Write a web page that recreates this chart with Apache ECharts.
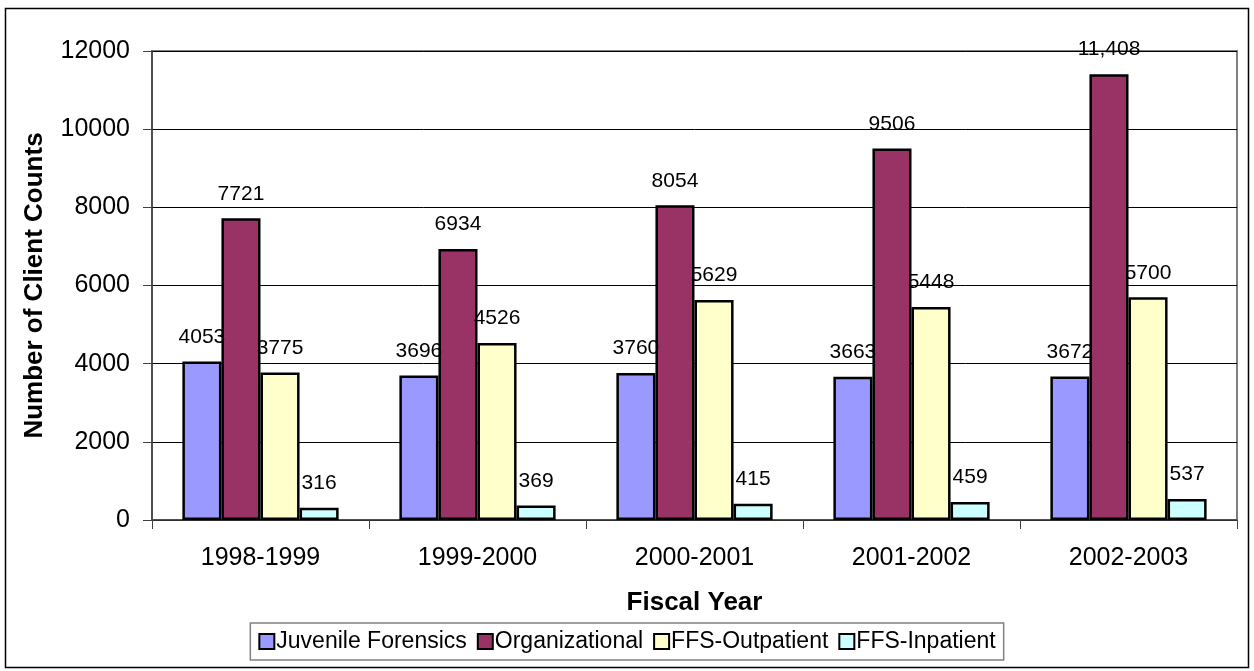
<!DOCTYPE html>
<html>
<head>
<meta charset="utf-8">
<script src="https://cdn.jsdelivr.net/npm/echarts@6/dist/echarts.min.js"></script>
<style>
html,body{margin:0;padding:0;background:#fff;}
#chart{width:1254px;height:671px;}
</style>
</head>
<body>
<div id="chart"></div>
<script>
const categories = ['1998-1999', '1999-2000', '2000-2001', '2001-2002', '2002-2003'];
const juvenileForensics = [4053, 3696, 3760, 3663, 3672];
const organizational = [7721, 6934, 8054, 9506, 11408];
const organizationalLabels = ['7721', '6934', '8054', '9506', '11,408'];
const ffsOutpatient = [3775, 4526, 5629, 5448, 5700];
const ffsInpatient = [316, 369, 415, 459, 537];
const yTicks = [0, 2000, 4000, 6000, 8000, 10000, 12000];

const FONT = '"Liberation Sans", Arial, sans-serif';
const chart = echarts.init(document.getElementById('chart'), null, {renderer: 'canvas'});

function barSeries(name, data, color, labels) {
  return {
    name: name,
    type: 'bar',
    data: data,
    barGap: '0%',
    barCategoryGap: '28%',
    itemStyle: {color: color, borderColor: '#000', borderWidth: 2.5},
    label: {
      show: true,
      position: 'top',
      distance: 14,
      color: '#000',
      fontFamily: FONT,
      fontSize: 21,
      formatter: labels ? (p) => labels[p.dataIndex] : '{c}'
    },
    emphasis: {disabled: true}
  };
}

chart.setOption({
  animation: false,
  backgroundColor: '#fff',
  textStyle: {fontFamily: FONT, color: '#000'},
  graphic: [{
    type: 'rect',
    shape: {x: 5.5, y: 8.5, width: 1243, height: 659},
    style: {fill: 'none', stroke: '#000', lineWidth: 1.5},
    silent: true
  }],
  grid: {
    left: 152, right: 17, top: 51, bottom: 151,
    show: true, borderColor: '#808080', borderWidth: 2, backgroundColor: 'transparent'
  },
  legend: {
    bottom: 11,
    left: 'center',
    icon: 'rect',
    itemWidth: 15,
    itemHeight: 15,
    itemGap: 10,
    padding: [7, 8, 7, 8],
    borderColor: '#808080',
    borderWidth: 1.5,
    textStyle: {fontFamily: FONT, fontSize: 23, color: '#000', padding: [0, 0, 0, -3]},
    data: ['Juvenile Forensics', 'Organizational', 'FFS-Outpatient', 'FFS-Inpatient']
  },
  xAxis: {
    type: 'category',
    data: categories,
    name: 'Fiscal Year',
    nameLocation: 'middle',
    nameGap: 70,
    nameTextStyle: {fontFamily: FONT, fontSize: 26, fontWeight: 'bold', color: '#000'},
    axisLine: {show: true, lineStyle: {color: '#404040', width: 1.5}},
    axisTick: {show: true, alignWithLabel: false, interval: 0, length: 9, lineStyle: {color: '#404040'}},
    axisLabel: {fontFamily: FONT, fontSize: 25, color: '#000', margin: 26},
    splitLine: {show: false}
  },
  yAxis: {
    type: 'value',
    min: 0,
    max: 12000,
    interval: 2000,
    name: 'Number of Client Counts',
    nameLocation: 'middle',
    nameGap: 104,
    nameTextStyle: {fontFamily: FONT, fontSize: 26, fontWeight: 'bold', color: '#000'},
    axisLine: {show: true, lineStyle: {color: '#404040', width: 1.5}},
    axisTick: {show: true, length: 9, lineStyle: {color: '#404040'}},
    axisLabel: {fontFamily: FONT, fontSize: 25, color: '#000', margin: 22,
      formatter: (v) => yTicks.includes(v) ? String(v) : ''},
    splitLine: {show: true, lineStyle: {color: '#000', width: 1}}
  },
  series: [
    barSeries('Juvenile Forensics', juvenileForensics, '#9999FF'),
    barSeries('Organizational', organizational, '#993366', organizationalLabels),
    barSeries('FFS-Outpatient', ffsOutpatient, '#FFFFCC'),
    barSeries('FFS-Inpatient', ffsInpatient, '#CCFFFF')
  ]
});
</script>
</body>
</html>
